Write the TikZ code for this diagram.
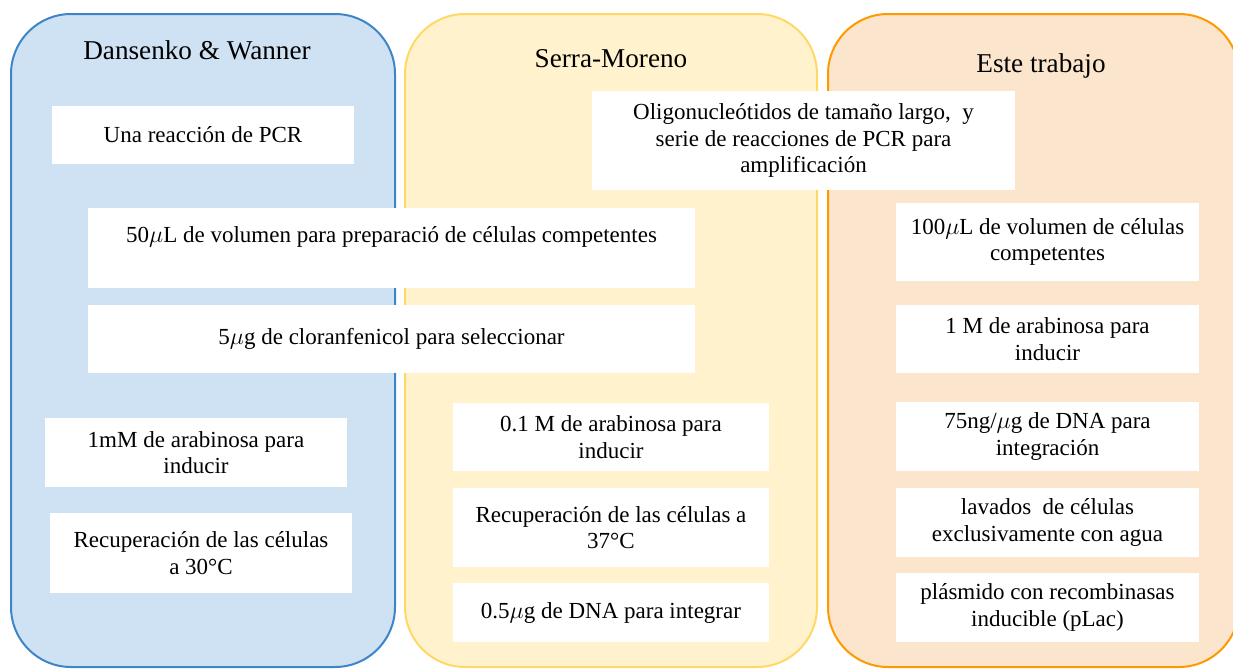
\documentclass[tikz,border=0pt]{standalone}
\usepackage{fontspec}
\setmainfont{Liberation Serif}
\usepackage{tikz}

\definecolor{azulfondo}{RGB}{207,226,243}
\definecolor{azulborde}{RGB}{61,133,198}
\definecolor{amarfondo}{RGB}{255,242,204}
\definecolor{amarborde}{RGB}{255,217,102}
\definecolor{narfondo}{RGB}{252,229,205}
\definecolor{narborde}{RGB}{255,153,0}

\begin{document}
\begin{tikzpicture}[x=0.5pt, y=-0.5pt,
    columna/.style={line width=1pt, rounded corners=30pt},
    titulo/.style={anchor=base, font=\fontsize{13.6}{16}\selectfont},
    caja/.style={fill=white, inner sep=0pt, align=center,
                 font=\fontsize{11.5}{13.3}\selectfont}]
         \useasboundingbox (0,0) rectangle (1233,669);
         \clip (0,0) rectangle (1233,669);
         % columnas
         \draw [columna, draw=azulborde, fill=azulfondo] (11,14) rectangle (395,667);
         \draw [columna, draw=amarborde, fill=amarfondo] (405,14) rectangle (817,667);
         \draw [columna, draw=narborde, fill=narfondo] (828,14) rectangle (1239,667);
         \node[titulo] (dw) at (197,60) {Dansenko \& Wanner};
         \node[titulo] (sm) at (611,68) {Serra-Moreno};
         \node[titulo] (et) at (1041,72) {Este trabajo};
         % Dansenko & Wanner
         \node[caja, minimum width=151pt, minimum height=29pt] (pcr) at (203,135) {Una reacción de PCR};
         \node[caja, minimum width=151pt, minimum height=34.5pt] (arab1) at (196,452.5) {1mM de arabinosa para\\inducir};
         \node[caja, minimum width=151pt, minimum height=40pt] (rec30) at (201,553) {Recuperación de las células\\a 30°C};
         % comunes
         \node[caja, minimum width=303.5pt, minimum height=40pt] (vol50) at (391.5,248) {50$\mu$L de volumen para preparació de células competentes\\\mbox{}};
         \node[caja, minimum width=303.5pt, minimum height=34pt] (clor) at (391.5,339) {5$\mu$g de cloranfenicol para seleccionar};
         \node[caja, minimum width=211.5pt, minimum height=49.5pt] (oligo) at (803.5,140.5) {Oligonucleótidos de tamaño largo,\ \ y\\serie de reacciones de PCR para\\amplificación};
         % Serra-Moreno
         \node[caja, minimum width=158pt, minimum height=34pt] (arab01) at (611,437) {0.1 M de arabinosa para\\inducir};
         \node[caja, minimum width=158pt, minimum height=39.5pt] (rec37) at (611,527.5) {Recuperación de las células a\\37°C};
         \node[caja, minimum width=158pt, minimum height=29.5pt] (dna05) at (611,612.5) {0.5$\mu$g de DNA para integrar};
         % Este trabajo
         \node[caja, minimum width=151.5pt, minimum height=39pt] (vol100) at (1047.5,242) {100$\mu$L de volumen de células\\competentes};
         \node[caja, minimum width=151.5pt, minimum height=34pt] (arab1M) at (1047.5,339) {1 M de arabinosa para\\inducir};
         \node[caja, minimum width=151.5pt, minimum height=34.5pt] (dna75) at (1047.5,436.5) {75ng/$\mu$g de DNA para\\integración};
         \node[caja, minimum width=151.5pt, minimum height=34.5pt] (lavados) at (1047.5,522.5) {lavados\ \ de células\\exclusivamente con agua};
         \node[caja, minimum width=151.5pt, minimum height=34.5pt] (plasm) at (1047.5,607.5) {plásmido con recombinasas\\inducible (pLac)};
       \end{tikzpicture}
\end{document}
